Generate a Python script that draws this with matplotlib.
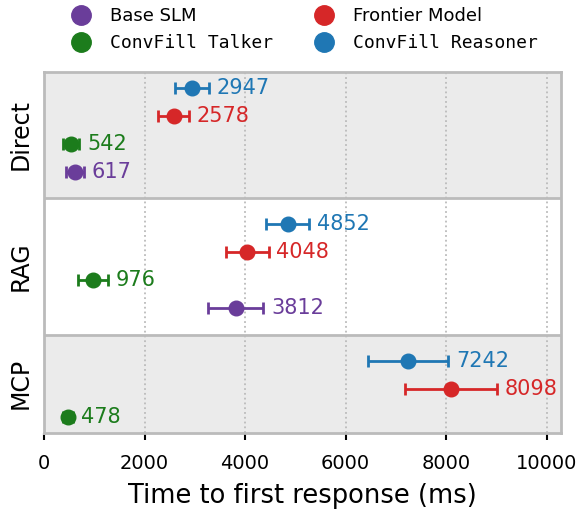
import matplotlib
matplotlib.use("Agg")
import matplotlib.pyplot as plt
from matplotlib.lines import Line2D
from matplotlib.transforms import blended_transform_factory

# ---- data ----
groups = ["Direct", "RAG", "MCP"]
models = ["ConvFill Reasoner", "Frontier Model", "ConvFill Talker", "Base SLM"]
colors = {"Base SLM": "#6a3d9a", "Frontier Model": "#d62728",
          "ConvFill Talker": "#1c7c1c", "ConvFill Reasoner": "#1f77b4"}

reasoner_mean = [2947, 4852, 7242]
reasoner_err = [340, 430, 800]
frontier_mean = [2578, 4048, 8098]
frontier_err = [310, 420, 910]
talker_mean = [542, 976, 478]
talker_err = [160, 290, 100]
base_mean = [617, 3812, None]
base_err = [170, 550, None]

means = {"ConvFill Reasoner": reasoner_mean, "Frontier Model": frontier_mean,
         "ConvFill Talker": talker_mean, "Base SLM": base_mean}
errs = {"ConvFill Reasoner": reasoner_err, "Frontier Model": frontier_err,
        "ConvFill Talker": talker_err, "Base SLM": base_err}

x_ticks = [0, 2000, 4000, 6000, 8000, 10000]

# ---- layout ----
fig = plt.figure(figsize=(5.84, 5.13), dpi=100)
ax = fig.add_axes([44 / 584, 1 - 433 / 513, (560.7 - 44) / 584, (433 - 71.7) / 513])

gap = 1.87
pad = 0.58
start = 0.0
bounds = []
for gi, g in enumerate(groups):
    present = [m for m in models if means[m][gi] is not None]
    ys = [start + k for k in range(len(present))]
    for m, y in zip(present, ys):
        mu = means[m][gi]
        e = errs[m][gi]
        c = colors[m]
        ax.errorbar([mu], [y], xerr=[e], fmt="o", color=c, ms=10.5,
                    elinewidth=2, capsize=4.5, capthick=2, zorder=3)
        ax.annotate(str(mu), xy=(mu + e, y), xytext=(5.5, 0),
                    textcoords="offset points", va="center", ha="left",
                    color=c, fontsize=15)
    top = start - (pad if gi == 0 else gap / 2)
    bot = ys[-1] + (pad if gi == len(groups) - 1 else gap / 2)
    bounds.append((top, bot))
    start = ys[-1] + gap

ylo = bounds[0][0]
yhi = bounds[-1][1]
ax.set_ylim(yhi, ylo)
ax.set_xlim(0, 10280)

trans = blended_transform_factory(ax.transAxes, ax.transData)
for gi, (top, bot) in enumerate(bounds):
    if gi % 2 == 0:
        ax.axhspan(top, bot, color="#ebebeb", zorder=0, lw=0)
    if gi > 0:
        ax.axhline(top, color="#bbbbbb", lw=2, zorder=1)
    ax.text(-0.046, (top + bot) / 2, groups[gi], transform=trans,
            rotation=90, ha="center", va="center", fontsize=17)

ax.set_yticks([])
ax.set_xticks(x_ticks)
ax.set_xticklabels([str(t) for t in x_ticks], fontsize=14)
ax.tick_params(axis="x", length=5, width=1.5, color="black", pad=10)
ax.grid(axis="x", linestyle=":", color="#bbbbbb", lw=1.3, zorder=0)
ax.set_axisbelow(True)
for s in ax.spines.values():
    s.set_color("#bbbbbb")
    s.set_linewidth(2)
ax.set_xlabel("Time to first response (ms)", fontsize=18.5, labelpad=7)

legend_order = ["Base SLM", "ConvFill Talker", "Frontier Model", "ConvFill Reasoner"]
handles = [Line2D([], [], marker="o", ls="none", color=colors[m], ms=14)
           for m in legend_order]
leg = fig.legend(handles, legend_order, loc="upper left",
                 bbox_to_anchor=(70.5 / 584, 0.986), ncol=2, frameon=False,
                 fontsize=13, handlelength=1.2, handletextpad=1.0,
                 columnspacing=2.2, labelspacing=0.5, borderpad=0,
                 borderaxespad=0)
for t in leg.get_texts():
    if t.get_text().startswith("ConvFill"):
        t.set_family("DejaVu Sans Mono")

fig.savefig("out.png", dpi=100)
